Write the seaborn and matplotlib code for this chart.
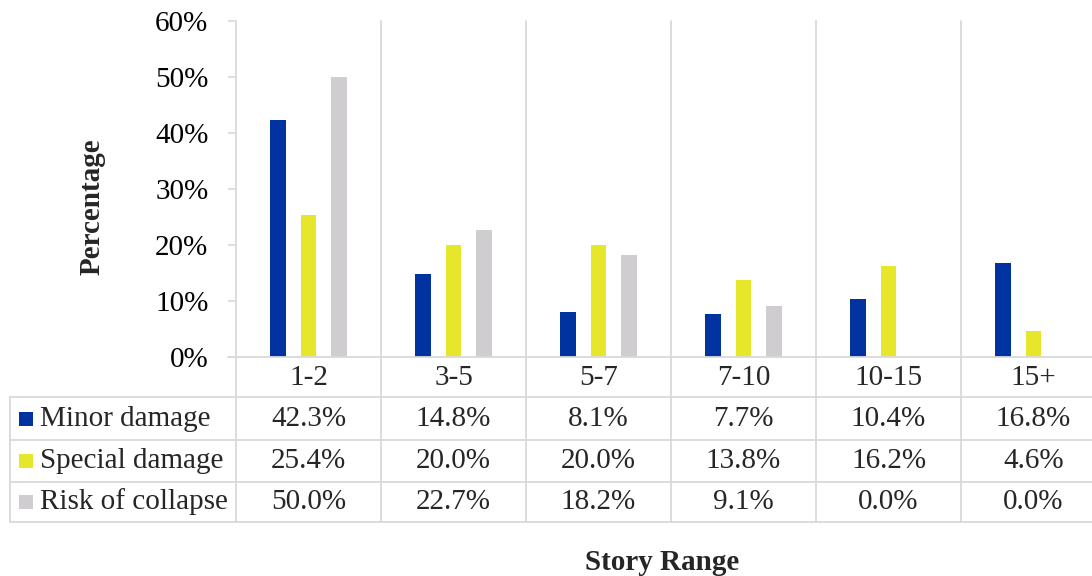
import matplotlib
matplotlib.use("Agg")
import matplotlib.pyplot as plt
from matplotlib.lines import Line2D
from matplotlib.patches import Rectangle
from matplotlib.transforms import blended_transform_factory
import seaborn as sns
import pandas as pd

# Story ranges and damage shares (percent)
ranges = ["1-2", "3-5", "5-7", "7-10", "10-15", "15+"]
minor_damage = [42.3, 14.8, 8.1, 7.7, 10.4, 16.8]
special_damage = [25.4, 20.0, 20.0, 13.8, 16.2, 4.6]
risk_of_collapse = [50.0, 22.7, 18.2, 9.1, 0.0, 0.0]
series_names = ["Minor damage", "Special damage", "Risk of collapse"]
series_colors = ["#0033A0", "#E6E62A", "#CFCDCF"]
y_ticks = [0, 10, 20, 30, 40, 50, 60]

series_values = [minor_damage, special_damage, risk_of_collapse]
df = pd.DataFrame(
    [(r, name, v) for name, vals in zip(series_names, series_values)
     for r, v in zip(ranges, vals)],
    columns=["range", "type", "value"],
)

sns.set_theme(style="white")
plt.rcParams["font.family"] = ["Liberation Serif", "DejaVu Serif"]

W, H, DPI = 1092, 576, 100
fig = plt.figure(figsize=(W / DPI, H / DPI), dpi=DPI)

# pixel helpers (origin top-left)
def fx(px):
    return px / W

def fy(py):
    return 1 - py / H

ax_left, ax_top, ax_bottom = 236, 21, 357
cat_w = 145
ax = fig.add_axes([fx(ax_left), fy(ax_bottom), (cat_w * 6) / W, (ax_bottom - ax_top) / H])

sns.barplot(
    data=df, x="range", y="value", hue="type", order=ranges,
    hue_order=series_names, palette=series_colors, saturation=1,
    width=0.63, gap=0.5, linewidth=0, legend=False, ax=ax,
)

fs = 21

ax.set_xlim(-0.5, len(ranges) - 0.5)
ax.set_ylim(0, 60)
ax.set_yticks(y_ticks)
ax.set_yticklabels([f"{t}%" for t in y_ticks])
ax.set_xticks([])
ax.set_xlabel("")
ax.set_ylabel("")
ax.tick_params(axis="y", length=5.8, width=1.2, color="#D9D9D9", pad=14,
               labelsize=fs, labelcolor="#000000", left=True)
for s in ["top", "right", "bottom"]:
    ax.spines[s].set_visible(False)
ax.spines["left"].set_color("#D9D9D9")
ax.spines["left"].set_linewidth(1.3)

grid_c = "#D9D9D9"
lw = 1.3
tb = blended_transform_factory(ax.transData, fig.transFigure)
tf = fig.transFigure

table_bottom = 522
row_lines = [397, 440, 482, 522]
row_centers = [419, 461, 502]

# category separators running through plot and table
for i in range(1, len(ranges)):
    fig.add_artist(Line2D([i - 0.5, i - 0.5], [fy(ax_top), fy(table_bottom)],
                          transform=tb, color=grid_c, lw=lw))
fig.add_artist(Line2D([fx(ax_left), fx(ax_left)], [fy(ax_bottom), fy(table_bottom)],
                      transform=tf, color=grid_c, lw=lw))
# baseline
fig.add_artist(Line2D([fx(228), 1.0], [fy(ax_bottom), fy(ax_bottom)],
                      transform=tf, color=grid_c, lw=lw))
# table rows
for yl in row_lines:
    fig.add_artist(Line2D([fx(10), 1.0], [fy(yl), fy(yl)],
                          transform=tf, color=grid_c, lw=lw))
fig.add_artist(Line2D([fx(10), fx(10)], [fy(397), fy(table_bottom)],
                      transform=tf, color=grid_c, lw=lw))

# header row with story ranges
for i, r in enumerate(ranges):
    fig.text(i, fy(378), r, transform=tb, ha="center", va="center", fontsize=fs)

# data rows with legend keys
for name, vals, col, yc in zip(series_names, series_values, series_colors, row_centers):
    fig.add_artist(Rectangle((fx(19), fy(yc + 7)), 14 / W, 14 / H,
                             transform=tf, facecolor=col, edgecolor="none"))
    fig.text(fx(40), fy(yc), name, transform=tf, ha="left", va="center", fontsize=fs)
    for i, v in enumerate(vals):
        fig.text(i, fy(yc), f"{v:.1f}%", transform=tb, ha="center", va="center",
                 fontsize=fs)

fig.text(fx(92), fy(207), "Percentage", rotation=90, ha="center", va="center",
         fontsize=fs, fontweight="bold")
fig.text(fx(662), fy(562), "Story Range", ha="center", va="center",
         fontsize=fs, fontweight="bold")

fig.savefig("out.png", dpi=DPI)
